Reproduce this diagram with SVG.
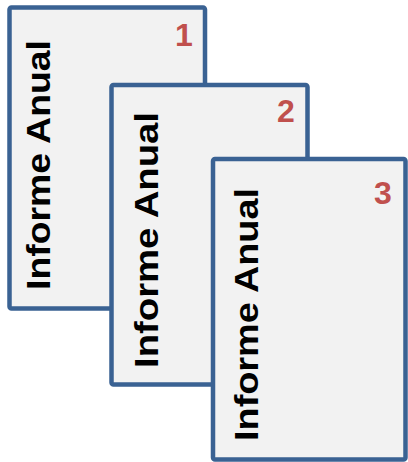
<svg xmlns="http://www.w3.org/2000/svg" width="408" height="462" viewBox="0 0 408 462">
<style>
.card{fill:#F2F2F2;stroke:#3A6293;stroke-width:4.5}
.title{font-family:"Liberation Sans",Arial,sans-serif;font-weight:bold;font-size:34px;fill:#000}
.num{font-family:"Liberation Sans",Arial,sans-serif;font-weight:bold;font-size:32px;fill:#C0504D;text-anchor:middle}
</style>
<rect width="408" height="462" fill="#fff"/>
<g id="node1">
<rect class="card" x="9.5" y="7.5" width="195.5" height="301" rx="2"/>
<text class="title" transform="translate(50,290) rotate(-90)" textLength="250" lengthAdjust="spacingAndGlyphs">Informe Anual</text>
<text class="num" x="184" y="46">1</text>
</g>
<g id="node2">
<rect class="card" x="111.5" y="85" width="196" height="299.5" rx="2"/>
<text class="title" transform="translate(158,368) rotate(-90)" textLength="256" lengthAdjust="spacingAndGlyphs">Informe Anual</text>
<text class="num" x="286" y="122">2</text>
</g>
<g id="node3">
<rect class="card" x="213" y="159" width="192.5" height="300.5" rx="2"/>
<text class="title" transform="translate(258,441) rotate(-90)" textLength="253" lengthAdjust="spacingAndGlyphs">Informe Anual</text>
<text class="num" x="383" y="204">3</text>
</g>
<g id="connectors"/>
</svg>
